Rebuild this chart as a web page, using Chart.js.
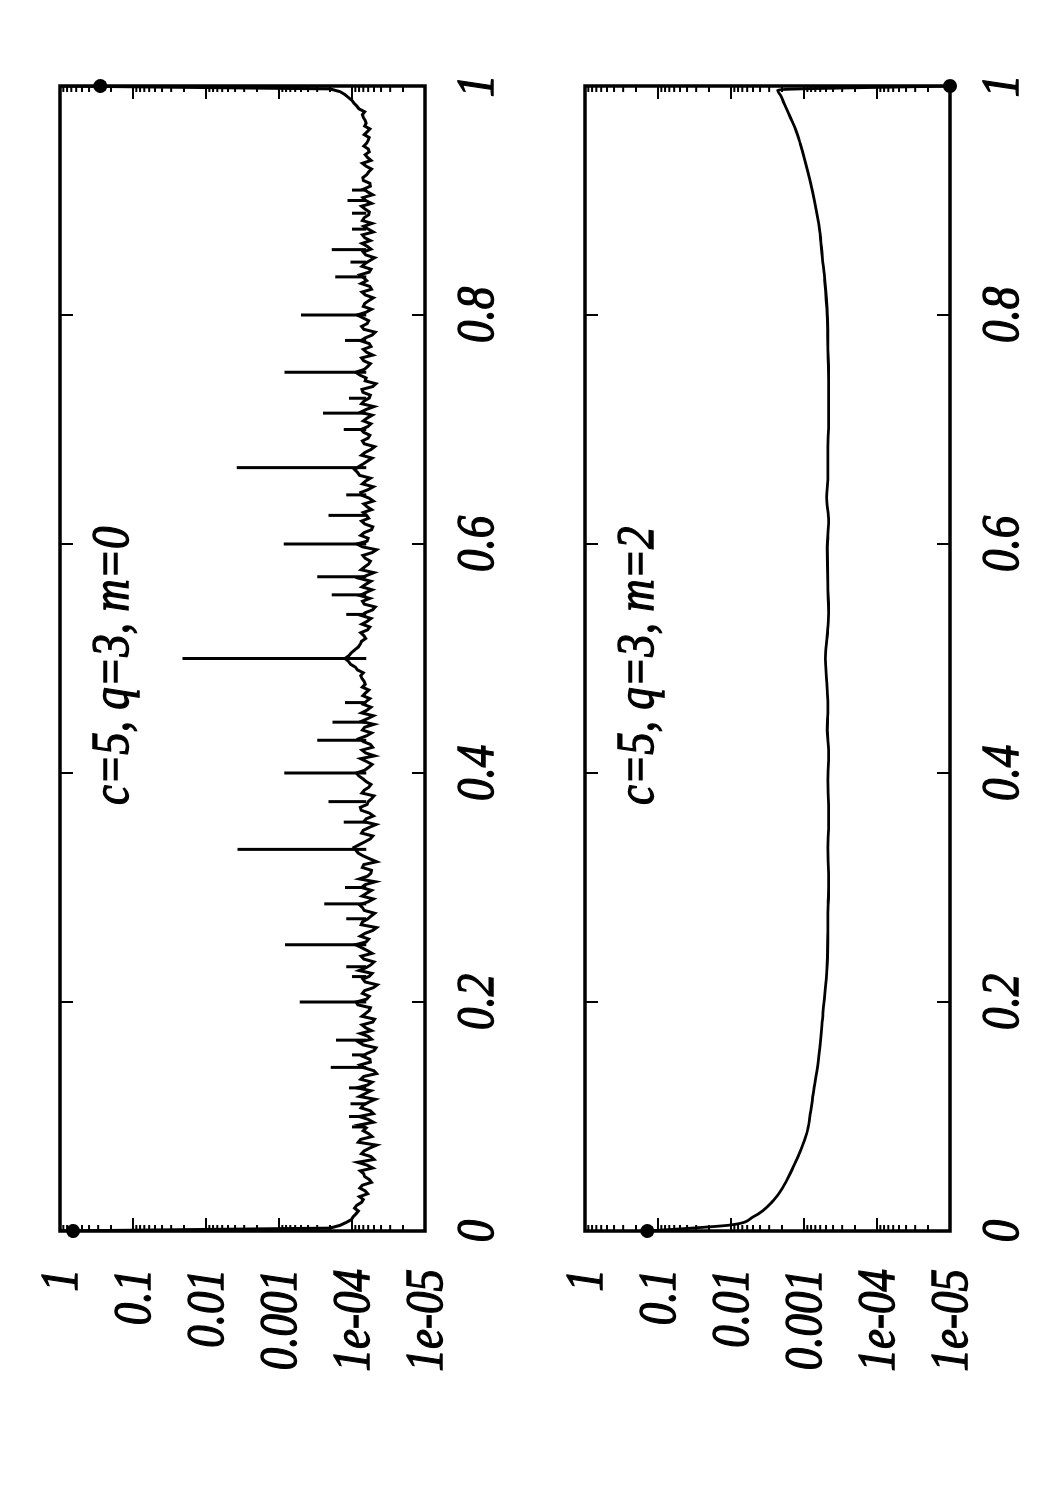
<!DOCTYPE html>
<html>
<head>
<meta charset="utf-8">
<script src="https://cdn.jsdelivr.net/npm/chart.js@4.4.1/dist/chart.umd.min.js"></script>
<style>
    html, body { margin: 0; padding: 0; background: #fff; overflow: hidden; }
    /* the plot is drawn landscape and turned a quarter turn, like the printed page */
    #page {
        position: absolute; left: 0; top: 0;
        width: 1500px; height: 1050px;
        transform-origin: 0 0;
        transform: translate(0, 1500px) rotate(-90deg);
    }
    #page canvas { position: absolute; left: 0; }
</style>
</head>
<body>
<div id="page">
    <canvas id="chartTop" width="1500" height="525" style="top:0"></canvas>
    <canvas id="chartBottom" width="1500" height="525" style="top:525px"></canvas>
</div>
<script>
// tick labels
const xTickValues = [0, 0.2, 0.4, 0.6, 0.8, 1];
const xTickLabels = ['0', '0.2', '0.4', '0.6', '0.8', '1'];
const yTickValues = [1, 0.1, 0.01, 0.001, 1e-4, 1e-5];
const yTickLabels = ['1', '0.1', '0.01', '0.001', '1e-04', '1e-05'];

// end masses (dots) at x = 0 and x = 1
const endX = [0, 1];

// ---- top panel: m=0
const label1 = 'c=5, q=3, m=0';
// curve read at x = 0, 0.005, ... 1
const base1 = [
    1, 1.45e-4, 1.02e-4, 8.8e-5, 9.2e-5, 7.4e-5, 7.9e-5, 6.6e-5, 7.2e-5, 5.8e-5,
    6.9e-5, 5.2e-5, 8.4e-5, 5.5e-5, 6.8e-5, 4.6e-5, 7.6e-5, 5.9e-5, 6.4e-5, 5.1e-5,
    8.0e-5, 5.6e-5, 7.0e-5, 4.8e-5, 6.6e-5, 8.6e-5, 5.3e-5, 6.9e-5, 5.0e-5, 7.8e-5,
    5.7e-5, 6.3e-5, 4.7e-5, 8.1e-5, 6.0e-5, 5.4e-5, 7.3e-5, 4.9e-5, 6.5e-5, 5.6e-5,
    8.8e-5, 5.8e-5, 6.7e-5, 4.5e-5, 7.1e-5, 5.3e-5, 6.4e-5, 5.0e-5, 7.5e-5, 6.2e-5,
    9.0e-5, 5.9e-5, 6.6e-5, 4.6e-5, 7.2e-5, 5.5e-5, 6.8e-5, 7.9e-5, 5.1e-5, 6.3e-5,
    7.4e-5, 4.8e-5, 6.1e-5, 5.4e-5, 6.9e-5, 5.7e-5, 8.2e-5, 9.4e-5, 6.6e-5, 5.2e-5,
    7.0e-5, 4.7e-5, 6.4e-5, 5.8e-5, 7.7e-5, 6.0e-5, 5.0e-5, 6.8e-5, 5.5e-5, 7.1e-5,
    8.7e-5, 5.9e-5, 6.3e-5, 4.9e-5, 7.3e-5, 5.6e-5, 8.0e-5, 5.4e-5, 6.7e-5, 7.5e-5,
    5.1e-5, 6.2e-5, 7.0e-5, 5.7e-5, 6.5e-5, 7.2e-5, 6.8e-5, 7.6e-5, 8.4e-5, 1.05e-4,
    1.25e-4, 1.02e-4, 8.2e-5, 7.4e-5, 6.9e-5, 6.1e-5, 7.3e-5, 5.5e-5, 6.6e-5, 4.8e-5,
    7.2e-5, 7.8e-5, 5.3e-5, 6.4e-5, 7.9e-5, 5.0e-5, 6.7e-5, 5.6e-5, 7.1e-5, 4.6e-5,
    8.6e-5, 6.0e-5, 6.8e-5, 5.2e-5, 7.4e-5, 6.3e-5, 5.4e-5, 6.9e-5, 5.8e-5, 7.6e-5,
    5.1e-5, 6.5e-5, 7.9e-5, 9.2e-5, 7.0e-5, 5.3e-5, 6.6e-5, 4.9e-5, 7.2e-5, 5.7e-5,
    7.5e-5, 5.5e-5, 6.2e-5, 7.7e-5, 5.0e-5, 6.8e-5, 5.6e-5, 7.3e-5, 4.7e-5, 6.4e-5,
    8.9e-5, 6.1e-5, 6.9e-5, 5.2e-5, 7.0e-5, 5.8e-5, 6.6e-5, 4.8e-5, 7.4e-5, 5.9e-5,
    8.5e-5, 5.4e-5, 6.7e-5, 5.1e-5, 7.3e-5, 5.7e-5, 6.3e-5, 7.8e-5, 5.5e-5, 6.6e-5,
    4.9e-5, 7.0e-5, 6.2e-5, 5.6e-5, 7.2e-5, 6.0e-5, 5.3e-5, 6.8e-5, 5.8e-5, 7.4e-5,
    6.5e-5, 5.2e-5, 6.9e-5, 5.7e-5, 7.1e-5, 5.9e-5, 6.4e-5, 5.5e-5, 6.6e-5, 6.0e-5,
    6.3e-5, 5.8e-5, 6.2e-5, 6.7e-5, 6.6e-5, 7.2e-5, 8.0e-5, 9.4e-5, 1.12e-4, 1.45e-4,
    1
];
// curve read half-way between those, at x = 0.0025, 0.0075, ... 0.9975
const mid1 = [
    2.0e-4, 1.2e-4, 9.6e-5, 8.2e-5, 8.6e-5, 7.0e-5, 6.1e-5, 7.8e-5, 5.4e-5, 6.7e-5,
    7.7e-5, 6.2e-5, 5.0e-5, 7.4e-5, 5.7e-5, 8.2e-5, 5.3e-5, 7.0e-5, 8.1e-5, 6.0e-5,
    5.1e-5, 7.5e-5, 5.9e-5, 7.9e-5, 5.5e-5, 6.1e-5, 7.6e-5, 4.6e-5, 6.8e-5, 5.6e-5,
    7.1e-5, 5.0e-5, 7.0e-5, 5.4e-5, 7.7e-5, 6.5e-5, 5.2e-5, 7.3e-5, 5.8e-5, 8.3e-5,
    6.3e-5, 7.2e-5, 5.1e-5, 6.6e-5, 5.8e-5, 8.0e-5, 5.5e-5, 6.9e-5, 5.3e-5, 7.4e-5,
    6.4e-5, 7.7e-5, 5.2e-5, 7.5e-5, 6.1e-5, 4.9e-5, 7.2e-5, 6.0e-5, 7.3e-5, 5.4e-5,
    6.6e-5, 7.9e-5, 5.5e-5, 7.2e-5, 4.6e-5, 7.0e-5, 8.8e-5, 7.9e-5, 5.6e-5, 7.4e-5,
    5.8e-5, 6.9e-5, 5.1e-5, 7.5e-5, 6.2e-5, 5.4e-5, 7.3e-5, 5.9e-5, 6.4e-5, 8.1e-5,
    6.7e-5, 5.3e-5, 7.6e-5, 6.5e-5, 5.2e-5, 7.0e-5, 6.3e-5, 7.2e-5, 5.0e-5, 6.1e-5,
    7.4e-5, 5.5e-5, 6.4e-5, 7.1e-5, 5.9e-5, 6.6e-5, 7.3e-5, 7.0e-5, 9.0e-5, 1.12e-4,
    1.1e-4, 9.2e-5, 7.7e-5, 6.5e-5, 7.6e-5, 5.7e-5, 6.2e-5, 7.4e-5, 5.2e-5, 6.8e-5,
    5.7e-5, 6.5e-5, 7.3e-5, 5.5e-5, 6.3e-5, 7.5e-5, 5.9e-5, 6.6e-5, 5.3e-5, 7.2e-5,
    6.2e-5, 7.6e-5, 5.4e-5, 6.7e-5, 5.9e-5, 7.0e-5, 6.2e-5, 5.1e-5, 7.3e-5, 6.0e-5,
    7.2e-5, 5.6e-5, 8.4e-5, 8.1e-5, 6.1e-5, 7.4e-5, 5.5e-5, 6.8e-5, 6.0e-5, 6.9e-5,
    6.1e-5, 7.0e-5, 5.3e-5, 6.4e-5, 7.4e-5, 5.8e-5, 7.1e-5, 5.2e-5, 6.6e-5, 7.8e-5,
    6.8e-5, 5.6e-5, 7.4e-5, 6.3e-5, 5.5e-5, 7.6e-5, 5.3e-5, 6.9e-5, 6.2e-5, 7.1e-5,
    6.4e-5, 7.0e-5, 5.9e-5, 6.6e-5, 5.4e-5, 7.5e-5, 6.9e-5, 5.8e-5, 7.3e-5, 5.7e-5,
    6.5e-5, 5.5e-5, 7.3e-5, 6.7e-5, 5.1e-5, 6.9e-5, 7.2e-5, 5.9e-5, 6.6e-5, 5.4e-5,
    7.1e-5, 6.1e-5, 5.6e-5, 7.0e-5, 6.3e-5, 5.4e-5, 7.2e-5, 6.1e-5, 5.8e-5, 6.9e-5,
    6.0e-5, 6.8e-5, 5.7e-5, 6.4e-5, 7.0e-5, 6.7e-5, 8.6e-5, 1.0e-4, 1.25e-4, 2.0e-4
];
// peaks at rational x
const spikeX1 = [
    0.5, 0.3333, 0.6667, 0.25, 0.75, 0.2, 0.8, 0.4, 0.6,
    0.1667, 0.8333, 0.1429, 0.8571, 0.2857, 0.7143, 0.4286, 0.5714,
    0.125, 0.875, 0.375, 0.625, 0.1111, 0.8889, 0.2222, 0.7778, 0.4444, 0.5556,
    0.1, 0.9, 0.3, 0.7, 0.0909, 0.9091, 0.2727, 0.7273,
    0.2308, 0.3571, 0.4615, 0.5385, 0.6429, 0.1538, 0.8462
];
const spikeTop1 = [
    0.021, 3.7e-3, 3.8e-3, 8.3e-4, 8.4e-4, 5.2e-4, 5.0e-4, 8.5e-4, 8.6e-4,
    1.65e-4, 1.7e-4, 1.95e-4, 1.9e-4, 2.4e-4, 2.5e-4, 3.0e-4, 3.0e-4,
    1.1e-4, 1.0e-4, 2.1e-4, 2.1e-4, 1.05e-4, 1.0e-4, 1.0e-4, 1.25e-4, 1.85e-4, 1.9e-4,
    1.1e-4, 1.15e-4, 1.25e-4, 1.3e-4, 1.0e-4, 1.0e-4, 1.2e-4, 1.1e-4,
    1.2e-4, 1.3e-4, 1.25e-4, 1.2e-4, 1.2e-4, 1.0e-4, 1.05e-4
];
const spikeFoot1 = 6.4e-5;
const endY1 = [0.66, 0.28];

// ---- bottom panel: m=2
const label2 = 'c=5, q=3, m=2';
const x2 = [
    0, 0.0026, 0.0052, 0.0122, 0.027, 0.056, 0.086, 0.1, 0.117, 0.147,
    0.19, 0.234, 0.278, 0.3, 0.335, 0.36, 0.394, 0.42, 0.4375, 0.46,
    0.481, 0.5, 0.52, 0.54, 0.56, 0.597, 0.62, 0.641, 0.66, 0.685,
    0.71, 0.743, 0.77, 0.8, 0.83, 0.85, 0.874, 0.9, 0.918, 0.935,
    0.95, 0.962, 0.973, 0.984, 0.992, 0.9965, 1
];
const y2 = [
    0.14, 0.033, 0.0103, 0.005, 0.0026, 0.0014, 9.1e-4, 8.3e-4, 7.6e-4, 6.4e-4,
    5.5e-4, 4.8e-4, 4.7e-4, 4.6e-4, 4.7e-4, 4.6e-4, 4.7e-4, 4.6e-4, 4.8e-4, 4.7e-4,
    4.9e-4, 5.1e-4, 4.8e-4, 4.6e-4, 4.7e-4, 4.8e-4, 4.6e-4, 4.9e-4, 4.7e-4, 4.7e-4,
    4.6e-4, 4.6e-4, 4.7e-4, 4.8e-4, 5.2e-4, 5.6e-4, 6.1e-4, 7.2e-4, 8.3e-4, 9.7e-4,
    1.13e-3, 1.3e-3, 1.55e-3, 1.85e-3, 2.1e-3, 2.3e-3, 1e-5
];
const endY2 = [0.14, 1e-5];


const serif = '"Liberation Serif", "DejaVu Serif", serif';
const textFont = 'italic 45px ' + serif;
const textStretch = 1.15;   // the printed page is a bit taller than wide

// italic text, stretched a little and given a thin outline so it prints heavy
function stretchedText(ctx, str, px, py, align) {
    ctx.save();
    ctx.translate(px, py);
    ctx.scale(1, textStretch);
    ctx.textAlign = align;
    ctx.lineWidth = 1.1;
    ctx.fillText(str, 0, 0);
    ctx.strokeText(str, 0, 0);
    ctx.restore();
}

// frame, inward ticks, tick labels and the panel label
const framePlugin = {
    id: 'frame',
    beforeDatasetsDraw(chart, args, opts) {
        const ctx = chart.ctx;
        const a = chart.chartArea;
        const x = chart.scales.x;
        const y = chart.scales.y;
        const seg = function (x0, y0, x1, y1) {
            ctx.beginPath();
            ctx.moveTo(x0, y0);
            ctx.lineTo(x1, y1);
            ctx.stroke();
        };
        ctx.save();
        ctx.strokeStyle = '#000';
        ctx.fillStyle = '#000';
        ctx.font = textFont;
        ctx.textBaseline = 'alphabetic';
        xTickValues.forEach(function (v, i) {
            const px = x.getPixelForValue(v);
            ctx.lineWidth = 2;
            seg(px, a.bottom, px, a.bottom - 13);
            seg(px, a.top, px, a.top + 13);
            stretchedText(ctx, xTickLabels[i], px, a.bottom + 68, 'center');
        });
        yTickValues.forEach(function (v, i) {
            const py = y.getPixelForValue(v);
            ctx.lineWidth = 2;
            seg(a.left, py, a.left + 13, py);
            seg(a.right, py, a.right - 13, py);
            if (v < 1) {
                for (let m = 2; m <= 9; m++) {
                    const pm = y.getPixelForValue(v * m);
                    seg(a.left, pm, a.left + 6, pm);
                    seg(a.right, pm, a.right - 6, pm);
                }
            }
            stretchedText(ctx, yTickLabels[i], a.left - 38, py + 17, 'right');
        });
        ctx.lineWidth = 3.5;
        ctx.strokeRect(a.left, a.top, a.right - a.left, a.bottom - a.top);

        stretchedText(ctx, opts.text, x.getPixelForValue(0.372), y.getPixelForValue(0.118), 'left');
        ctx.restore();
    }
};

function makeChart(id, datasets, text) {
    return new Chart(document.getElementById(id), {
        type: 'scatter',
        data: { datasets: datasets },
        options: {
            responsive: false,
            animation: false,
            devicePixelRatio: 1,
            layout: { padding: { left: 0, right: 86, top: 60, bottom: 0 } },
            plugins: {
                legend: { display: false },
                tooltip: { enabled: false },
                frame: { text: text }
            },
            scales: {
                x: {
                    type: 'linear', min: 0, max: 1,
                    grid: { display: false, drawTicks: false },
                    border: { display: false },
                    ticks: { display: false, stepSize: 0.2 },
                    afterFit: function (s) { s.height = 100; }
                },
                y: {
                    type: 'logarithmic', min: 1e-5, max: 1,
                    grid: { display: false, drawTicks: false },
                    border: { display: false },
                    ticks: { display: false },
                    afterBuildTicks: function (s) {
                        s.ticks = yTickValues.map(function (v) { return { value: v }; });
                    },
                    afterFit: function (s) { s.width = 269; }
                }
            }
        },
        plugins: [framePlugin]
    });
}

function lineSet(points, width, smooth) {
    return {
        data: points, showLine: true, borderColor: '#000', borderWidth: width,
        pointRadius: 0, spanGaps: false, borderJoinStyle: 'miter',
        cubicInterpolationMode: smooth ? 'monotone' : 'default', tension: 0
    };
}
function dotSet(ys) {
    return {
        data: endX.map(function (x, i) { return { x: x, y: ys[i] }; }),
        showLine: false, pointRadius: 7, pointBackgroundColor: '#000',
        pointBorderWidth: 0, clip: false
    };
}

// top panel
const curve1 = [];
base1.forEach(function (v, i) {
    const n = base1.length - 1;
    curve1.push({ x: i / n, y: v });
    if (i < n) curve1.push({ x: (i + 0.5) / n, y: mid1[i] });
});
const spikes1 = [];
spikeX1.forEach(function (s, i) {
    spikes1.push({ x: s, y: spikeFoot1 }, { x: s, y: spikeTop1[i] }, { x: s, y: null });
});
makeChart('chartTop', [lineSet(curve1, 3, false), lineSet(spikes1, 3, false), dotSet(endY1)], label1);

// bottom panel
const curve2 = x2.map(function (x, i) { return { x: x, y: y2[i] }; });
makeChart('chartBottom', [lineSet(curve2, 2.8, true), dotSet(endY2)], label2);
</script>
</body>
</html>
